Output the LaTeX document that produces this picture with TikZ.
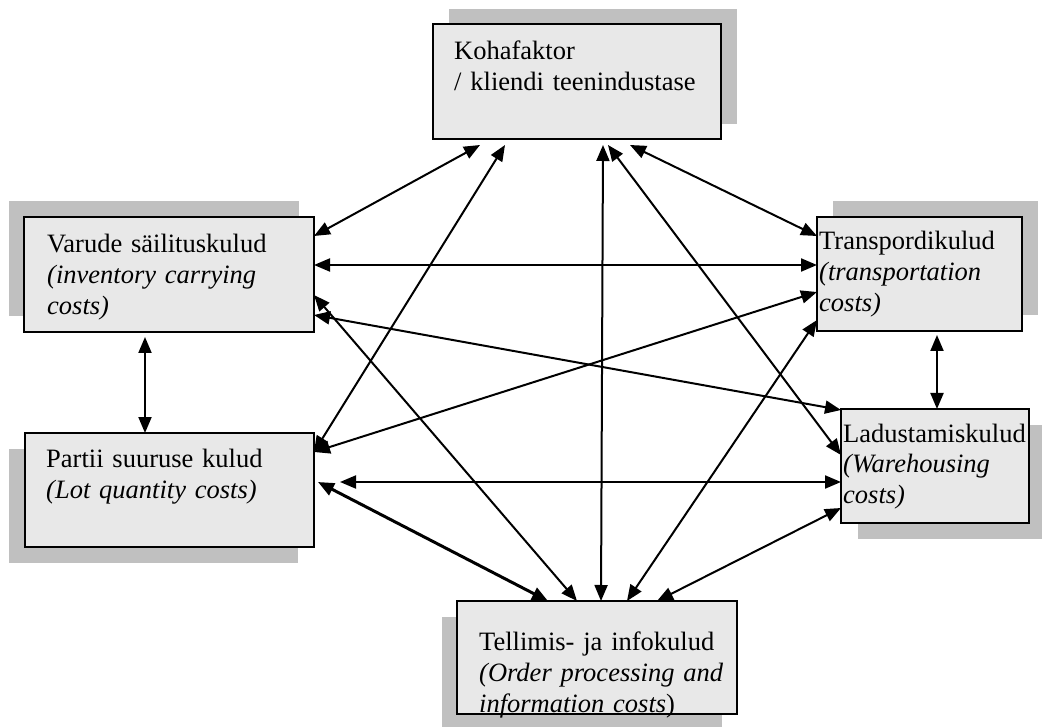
\documentclass[tikz,border=0pt]{standalone}
\usepackage{fontspec}
\setmainfont{Liberation Serif}
\usetikzlibrary{arrows.meta,calc}
\definecolor{boxfill}{HTML}{E8E8E8}
\definecolor{shadowgray}{HTML}{C0C0C0}
\begin{document}
\begin{tikzpicture}[x=1pt,y=-1pt,
  costbox/.style={draw=black,line width=1.5pt,fill=boxfill,inner sep=0pt,outer sep=0pt,anchor=north west},
  boxshadow/.style={fill=shadowgray,draw=none,inner sep=0pt,outer sep=0pt,anchor=north west},
  boxtext/.style={anchor=base west,inner sep=0pt,text width=300pt,align=left,
    font=\fontsize{26.5}{31}\selectfont},
  link/.style={line width=2pt,{Triangle[length=16pt,width=13pt]}-{Triangle[length=16pt,width=13pt]}},
]
\fill[white] (0,0) rectangle (1042,727);
\useasboundingbox (0,0) rectangle (1042,727);

% shadows
\node[boxshadow,minimum width=288pt,minimum height=115pt] (kohaS) at (449,9) {};
\node[boxshadow,minimum width=290pt,minimum height=115pt] (varudeS) at (9,201) {};
\node[boxshadow,minimum width=205pt,minimum height=114pt] (transpS) at (833,201) {};
\node[boxshadow,minimum width=289pt,minimum height=114pt] (partiiS) at (9,449) {};
\node[boxshadow,minimum width=188pt,minimum height=114pt] (ladusS) at (858,425) {};
\node[boxshadow,minimum width=280pt,minimum height=113pt] (tellimS) at (442,617) {};

% boxes
\node[costbox,minimum width=288pt,minimum height=115pt] (koha) at (433,24) {};
\node[costbox,minimum width=290pt,minimum height=115pt] (varude) at (24,217) {};
\node[costbox,minimum width=205pt,minimum height=114pt] (transp) at (817,217) {};
\node[costbox,minimum width=289pt,minimum height=114pt] (partii) at (25,433) {};
\node[costbox,minimum width=188pt,minimum height=114pt] (ladus) at (841,409) {};
\node[costbox,minimum width=280pt,minimum height=113pt] (tellim) at (457,601) {};

% labels
\node[boxtext] (kohaT) at (454,60) {Kohafaktor\\/ kliendi teenindustase};
\node[boxtext] (varudeT) at (47,253) {Varude säilituskulud\\\textit{(inventory carrying}\\\textit{costs)}};
\node[boxtext] (transpT) at (819,250) {Transpordikulud\\\textit{(transportation}\\\textit{costs)}};
\node[boxtext] (partiiT) at (46,467) {Partii suuruse kulud\\\textit{(Lot quantity costs)}};
\node[boxtext] (ladusT) at (843,442) {Ladustamiskulud\\\textit{(Warehousing}\\\textit{costs)}};
\node[boxtext] (tellimT) at (479,650) {Tellimis- ja infokulud\\\textit{(Order processing and}\\\textit{information costs})};

% connectors
\draw[link] ($(koha.south west)+(47,6)$) -- ($(varude.north east)+(0,19)$);
\draw[link] ($(koha.south west)+(72,6)$) -- ($(partii.north east)+(0,19)$);
\draw[link] ($(koha.south west)+(170,6)$) -- ($(tellim.north west)+(144,0)$);
\draw[link] ($(koha.south west)+(175,6)$) -- ($(ladus.north west)+(0,46)$);
\draw[link] ($(koha.south west)+(197,6)$) -- ($(transp.north west)+(0,19)$);
\draw[link] ($(varude.north east)+(0,48)$) -- ($(transp.north west)+(0,48)$);
\draw[link] ($(varude.north east)+(0,78)$) -- ($(tellim.north west)+(120,0)$);
\draw[link] ($(varude.north east)+(0,98)$) -- ($(ladus.north west)+(0,1)$);
\draw[link] ($(varude.south west)+(121,5)$) -- ($(partii.north west)+(120,0)$);
\draw[link] ($(transp.north west)+(0,75)$) -- ($(partii.north east)+(0,19)$);
\draw[link] ($(transp.north west)+(0,103)$) -- ($(tellim.north west)+(170,0)$);
\draw[link] ($(transp.south west)+(120,4)$) -- ($(ladus.north west)+(96,0)$);
\draw[link] ($(partii.north east)+(26,49)$) -- ($(ladus.north west)+(0,73)$);
\draw[link,line width=3pt] ($(partii.north east)+(4,49)$) -- ($(tellim.north west)+(91,0)$);
\draw[link] ($(ladus.north west)+(0,99)$) -- ($(tellim.north west)+(200,0)$);
\end{tikzpicture}
\end{document}
